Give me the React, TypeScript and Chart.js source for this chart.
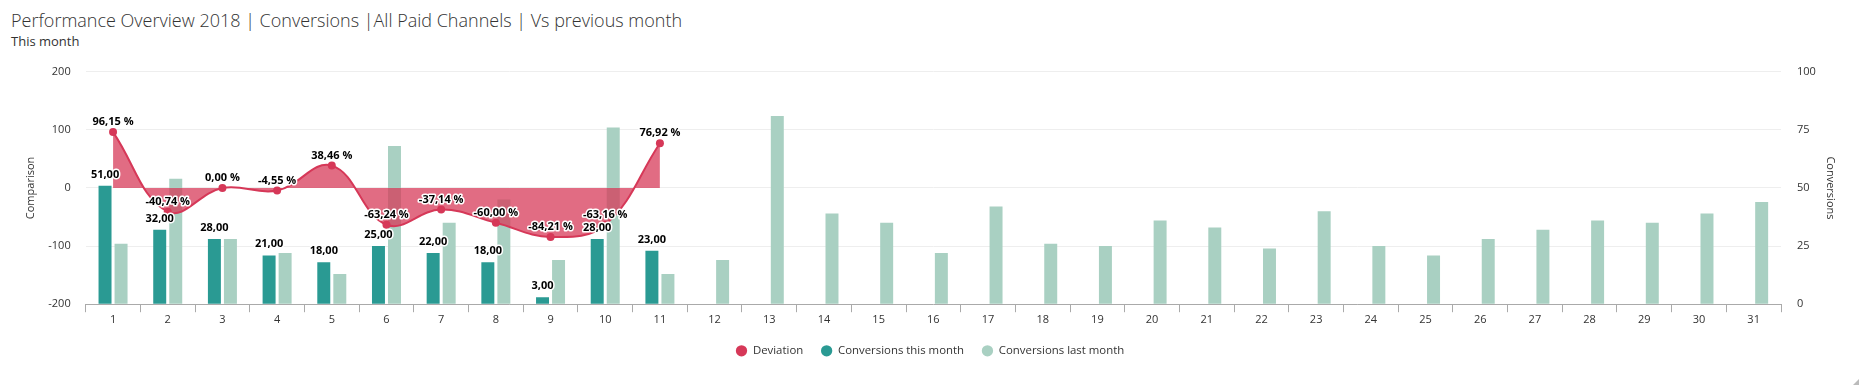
import React, { useEffect, useRef } from 'react';
import { Chart, registerables } from 'chart.js';

Chart.register(...registerables);

const FONT = '"Open Sans", "Noto Sans", sans-serif';

const titleText = 'Performance Overview 2018 | Conversions |All Paid Channels | Vs previous month';
const subtitleText = 'This month';

const days = ['1', '2', '3', '4', '5', '6', '7', '8', '9', '10', '11', '12', '13', '14', '15', '16',
  '17', '18', '19', '20', '21', '22', '23', '24', '25', '26', '27', '28', '29', '30', '31'];

const deviation = [96.15, -40.74, 0, -4.55, 38.46, -63.24, -37.14, -60.0, -84.21, -63.16, 76.92];
const thisMonth = [51, 32, 28, 21, 18, 25, 22, 18, 3, 28, 23];
const lastMonth = [26, 54, 28, 22, 13, 68, 35, 45, 19, 76, 13, 19, 81, 39, 35, 22, 42, 26, 25, 36, 33,
  24, 40, 25, 21, 28, 32, 36, 35, 39, 44];

const leftTicks = [-200, -100, 0, 100, 200];
const rightTicks = [0, 25, 50, 75, 100];

const RED = '#d63858';
const RED_FILL = 'rgba(214, 56, 88, 0.74)';
const TEAL = '#2a9a93';
const LIGHT = '#a9d0c2';

const fmt = (v: number) => v.toFixed(2).replace('.', ',');

const labelPlugin = {
  id: 'valueLabels',
  afterDatasetsDraw(chart: any) {
    const ctx = chart.ctx;
    ctx.save();
    ctx.font = `bold 11px ${FONT}`;
    ctx.textAlign = 'center';
    ctx.textBaseline = 'alphabetic';
    ctx.lineJoin = 'round';
    ctx.lineWidth = 3;
    ctx.strokeStyle = '#ffffff';
    ctx.fillStyle = '#000000';
    const draw = (t: string, x: number, y: number) => {
      ctx.strokeText(t, x, y);
      ctx.fillText(t, x, y);
    };
    chart.getDatasetMeta(1).data.forEach((el: any, i: number) => {
      draw(fmt(thisMonth[i]), el.x, el.y - 8);
    });
    chart.getDatasetMeta(0).data.forEach((el: any, i: number) => {
      draw(fmt(deviation[i]) + ' %', el.x, el.y - 7);
    });
    ctx.restore();
  },
};

export default function App() {
  const ref = useRef<HTMLCanvasElement | null>(null);

  useEffect(() => {
    if (!ref.current) return;
    const chart = new Chart(ref.current, {
      type: 'bar',
      data: {
        labels: days,
        datasets: [
          {
            type: 'line',
            label: 'Deviation',
            data: deviation,
            yAxisID: 'y',
            borderColor: RED,
            backgroundColor: RED,
            borderWidth: 2,
            pointRadius: 4,
            pointBackgroundColor: RED,
            pointBorderColor: RED,
            pointBorderWidth: 0,
            tension: 0.4,
            fill: { target: 'origin', above: RED_FILL, below: RED_FILL },
            order: 0,
          } as any,
          {
            type: 'bar',
            label: 'Conversions this month',
            data: thisMonth,
            yAxisID: 'y1',
            backgroundColor: TEAL,
            borderWidth: 0,
            categoryPercentage: 0.586,
            barPercentage: 0.81,
            order: 1,
          },
          {
            type: 'bar',
            label: 'Conversions last month',
            data: lastMonth,
            yAxisID: 'y1',
            backgroundColor: LIGHT,
            borderWidth: 0,
            categoryPercentage: 0.586,
            barPercentage: 0.81,
            order: 2,
          },
        ],
      },
      options: {
        responsive: true,
        maintainAspectRatio: false,
        animation: false,
        events: [],
        layout: { padding: { left: 19, right: 19, top: 71.7, bottom: 19.5 } },
        plugins: {
          legend: {
            position: 'bottom',
            labels: {
              usePointStyle: true,
              pointStyle: 'circle',
              boxWidth: 12,
              boxHeight: 8,
              padding: 17.7,
              color: '#333',
              font: { family: FONT, size: 11.4 },
            },
          },
          tooltip: { enabled: false },
          title: { display: false },
        },
        scales: {
          x: {
            offset: true,
            afterFit: (axis: any) => { axis.height = 23.2; },
            grid: { display: true, drawOnChartArea: false, offset: true, color: '#aaa', tickLength: 8 },
            border: { display: true, color: '#aaa' },
            ticks: { color: '#333', font: { family: FONT, size: 11 }, padding: 1, maxRotation: 0, autoSkip: false },
          },
          y: {
            position: 'left',
            min: -200,
            max: 200,
            afterFit: (axis: any) => { axis.width = 66.7; },
            afterBuildTicks: (axis: any) => { axis.ticks = leftTicks.map((v) => ({ value: v })); },
            ticks: { color: '#333', font: { family: FONT, size: 11 }, padding: 15 },
            grid: { color: '#eeeeee', drawTicks: false },
            border: { display: false },
            title: {
              display: true,
              text: 'Comparison',
              color: '#333',
              font: { family: FONT, size: 11 },
              padding: { top: 4.9, bottom: 0 },
            },
          },
          y1: {
            position: 'right',
            min: 0,
            max: 100,
            afterFit: (axis: any) => { axis.width = 60; },
            afterBuildTicks: (axis: any) => { axis.ticks = rightTicks.map((v) => ({ value: v })); },
            ticks: { color: '#333', font: { family: FONT, size: 11 }, padding: 16 },
            grid: { drawOnChartArea: false, drawTicks: false },
            border: { display: false },
            title: {
              display: true,
              text: 'Conversions',
              color: '#333',
              font: { family: FONT, size: 11 },
              padding: { top: 4.4, bottom: 0 },
            },
          },
        },
      },
      plugins: [labelPlugin],
    });
    return () => chart.destroy();
  }, []);

  return (
    <div style={{ position: 'fixed', left: 0, top: 0, width: 1860, height: 386, background: '#fff', fontFamily: FONT }}>
      <div style={{ position: 'absolute', left: 11, top: 11.3, fontSize: 18, fontWeight: 300, color: '#333', whiteSpace: 'nowrap', lineHeight: '18px' }}>
        {titleText}
      </div>
      <div style={{ position: 'absolute', left: 11, top: 35.1, fontSize: 13, color: '#333', whiteSpace: 'nowrap', lineHeight: '13px' }}>
        {subtitleText}
      </div>
      <div style={{ position: 'absolute', left: 0, top: 0, width: 1860, height: 386 }}>
        <canvas ref={ref} />
      </div>
      <div style={{ position: 'absolute', left: 1853, top: 379, width: 0, height: 0, borderStyle: 'solid', borderWidth: '0 0 6px 6px', borderColor: 'transparent transparent #bbb transparent' }} />
    </div>
  );
}
